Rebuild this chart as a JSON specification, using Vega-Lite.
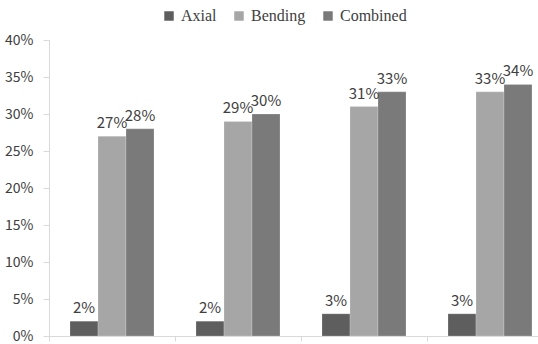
{
  "$schema": "https://vega.github.io/schema/vega-lite/v6.json",
  "width": 504,
  "height": 296,
  "autosize": {"type": "none"},
  "padding": {"left": 49, "top": 40, "right": 0, "bottom": 8},
  "config": {
    "view": {"stroke": null},
    "font": "Liberation Serif"
  },
  "data": {
    "values": [
      {"group": "G1", "series": "Axial", "value": 0.02},
      {"group": "G1", "series": "Bending", "value": 0.27},
      {"group": "G1", "series": "Combined", "value": 0.28},
      {"group": "G2", "series": "Axial", "value": 0.02},
      {"group": "G2", "series": "Bending", "value": 0.29},
      {"group": "G2", "series": "Combined", "value": 0.30},
      {"group": "G3", "series": "Axial", "value": 0.03},
      {"group": "G3", "series": "Bending", "value": 0.31},
      {"group": "G3", "series": "Combined", "value": 0.33},
      {"group": "G4", "series": "Axial", "value": 0.03},
      {"group": "G4", "series": "Bending", "value": 0.33},
      {"group": "G4", "series": "Combined", "value": 0.34}
    ]
  },
  "encoding": {
    "x": {
      "field": "group",
      "type": "nominal",
      "scale": {"paddingInner": 0, "paddingOuter": 0},
      "axis": {
        "labels": false,
        "title": null,
        "bandPosition": 0,
        "tickSize": 5,
        "domainColor": "#d9d9d9",
        "tickColor": "#d9d9d9"
      }
    },
    "xOffset": {
      "field": "series",
      "type": "nominal",
      "sort": ["Axial", "Bending", "Combined"],
      "scale": {"paddingInner": 0, "paddingOuter": 0.75}
    },
    "y": {
      "field": "value",
      "type": "quantitative",
      "scale": {"domain": [0, 0.4], "nice": false},
      "axis": {
        "format": ".0%",
        "values": [0, 0.05, 0.1, 0.15, 0.2, 0.25, 0.3, 0.35, 0.4],
        "grid": false,
        "title": null,
        "domainColor": "#d9d9d9",
        "tickColor": "#d9d9d9",
        "tickSize": 6,
        "labelPadding": 10,
        "labelFontSize": 14,
        "labelColor": "#404040",
        "labelFont": "Noto Sans CJK KR"
      }
    }
  },
  "layer": [
    {
      "mark": {"type": "bar", "stroke": "#ffffff", "strokeWidth": 0.5, "strokeOpacity": 0.4},
      "encoding": {
        "color": {
          "field": "series",
          "type": "nominal",
          "sort": ["Axial", "Bending", "Combined"],
          "scale": {"domain": ["Axial", "Bending", "Combined"], "range": ["#5e5e5e", "#a6a6a6", "#7a7a7a"]},
          "legend": {
            "title": null,
            "orient": "none",
            "direction": "horizontal",
            "legendX": 112,
            "legendY": -32,
            "symbolType": "square",
            "symbolSize": 90,
            "symbolStrokeWidth": 0,
            "labelFontSize": 16,
            "labelColor": "#404040",
            "columnPadding": 14,
            "labelOffset": 4
          }
        }
      }
    },
    {
      "mark": {"type": "text", "baseline": "bottom", "dy": -5, "fontSize": 15, "color": "#404040", "font": "Noto Sans CJK KR"},
      "encoding": {
        "text": {"field": "value", "type": "quantitative", "format": ".0%"}
      }
    }
  ]
}
